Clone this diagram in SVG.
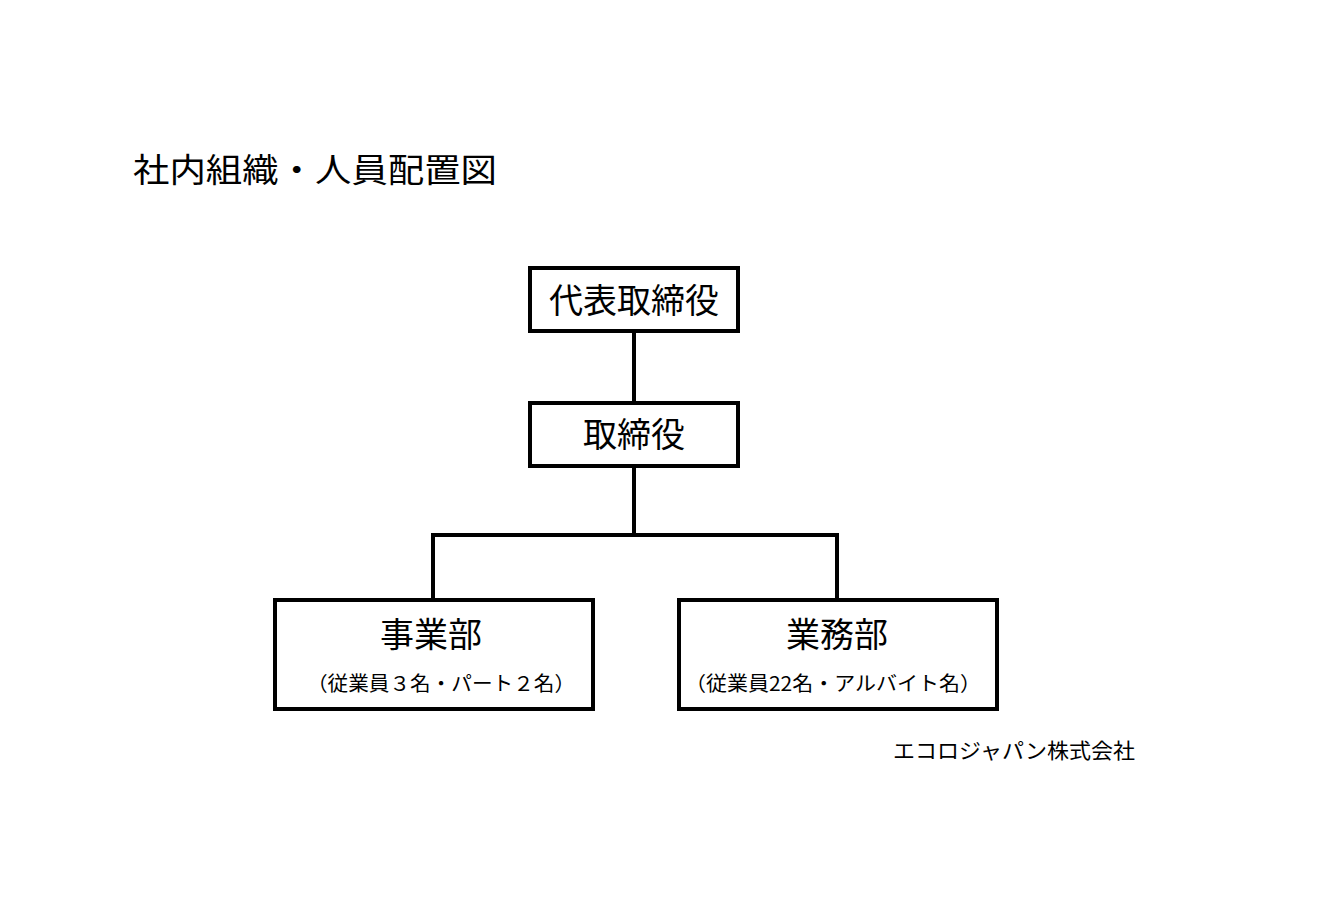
<svg xmlns="http://www.w3.org/2000/svg" width="1332" height="898" viewBox="0 0 1332 898">
<style>
text{font-family:"Noto Sans CJK JP","Noto Sans",sans-serif;fill:#000}
.box{fill:#fff;stroke:#000;stroke-width:4}
.ln{stroke:#000;stroke-width:4;fill:none}
.big{font-size:34px;text-anchor:middle}
.sm{font-size:20px;text-anchor:middle}
</style>
<rect width="1332" height="898" fill="#fff"/>
<text x="133" y="182" font-size="33" textLength="364" lengthAdjust="spacingAndGlyphs">社内組織・人員配置図</text>
<g id="connectors">
<path class="ln" d="M634 331V403M634 466V535M433 535H837M433 533V600M837 533V600"/>
</g>
<g id="ceo"><rect class="box" x="530" y="268" width="208" height="63"/><text class="big" x="634" y="313">代表取締役</text></g>
<g id="director"><rect class="box" x="530" y="403" width="208" height="63"/><text class="big" x="634" y="447">取締役</text></g>
<g id="jigyo"><rect class="box" x="275" y="600" width="318" height="109"/><text class="big" x="431" y="647">事業部</text><text class="sm" x="441" y="691" textLength="268" lengthAdjust="spacingAndGlyphs">（従業員３名・パート２名）</text></g>
<g id="gyomu"><rect class="box" x="679" y="600" width="318" height="109"/><text class="big" x="837" y="647">業務部</text><text class="sm" x="833" y="691" textLength="296" lengthAdjust="spacingAndGlyphs">（従業員22名・アルバイト名）</text></g>
<text x="893" y="758" font-size="21" textLength="242" lengthAdjust="spacingAndGlyphs">エコロジャパン株式会社</text>
</svg>
